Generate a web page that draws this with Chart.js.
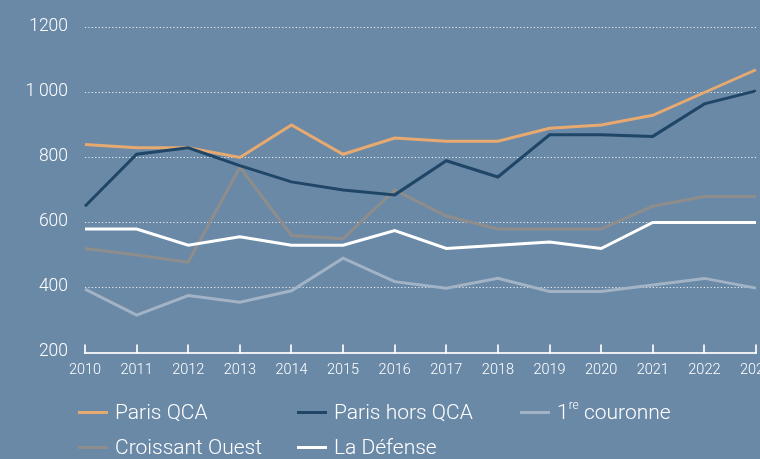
<!DOCTYPE html>
<html lang="fr">
<head>
<meta charset="utf-8">
<title>Loyers</title>
<script src="https://cdn.jsdelivr.net/npm/chart.js@4.4.1/dist/chart.umd.min.js"></script>
<style>
  html, body {
    margin: 0;
    padding: 0;
    width: 760px;
    height: 459px;
    overflow: hidden;
    background: #6a89a7;
    font-family: Roboto, "Liberation Sans", sans-serif;
  }
  #wrap {
    position: absolute;
    left: 0;
    top: 0;
    width: 786px;
    height: 385px;
  }
  #legend {
    position: absolute;
    left: 0;
    top: 0;
    width: 760px;
    height: 459px;
    pointer-events: none;
  }
  .item {
    position: absolute;
    display: flex;
    align-items: center;
    color: #fff;
    font-size: 21px;
    font-weight: 300;
    white-space: nowrap;
    height: 24px;
    margin-top: -12px;
  }
  .swatch {
    width: 30px;
    height: 3px;
    margin-right: 7px;
  }
  .item sup {
    font-size: 12px;
    position: relative;
    top: -2px;
  }
</style>
</head>
<body>
<div id="wrap"><canvas id="loyersChart" width="786" height="385"></canvas></div>
<div id="legend"></div>
<script>
  // Data
  const years = ['2010', '2011', '2012', '2013', '2014', '2015', '2016',
                 '2017', '2018', '2019', '2020', '2021', '2022', '2023'];
  const yTickLabels = ['200', '400', '600', '800', '1\u2009000', '1200'];

  const seriesNames = ['Paris QCA', 'Paris hors QCA', '1re couronne', 'Croissant Ouest', 'La Défense'];

  const parisQCA      = [840, 830, 830, 800, 900, 810, 860, 850, 850, 890, 900, 930, 1000, 1070];
  const parisHorsQCA  = [650, 810, 830, 775, 725, 700, 685, 790, 740, 870, 870, 865, 965, 1005];
  const premiereCour  = [395, 315, 375, 355, 390, 490, 418, 398, 428, 388, 388, 408, 428, 398];
  const croissantOuest = [520, 500, 478, 770, 560, 550, 700, 620, 580, 580, 580, 650, 680, 680];
  const laDefense     = [580, 580, 530, 556, 530, 530, 575, 520, 530, 540, 520, 600, 600, 600];

  const seriesColors = ['#e6a96f', '#1f4567', '#a2b3c5', '#8f8d8b', '#ffffff'];

  // Legend positions (column left, row centre)
  const legendSlots = [[78, 412], [297, 412], [520, 412], [78, 447], [297, 447]];

  const allSeries = [parisQCA, parisHorsQCA, premiereCour, croissantOuest, laDefense];
  const drawOrder = [3, 2, 5, 4, 1];

  const gridWhite = 'rgba(255,255,255,0.85)';

  // Small upward tick marks on the x axis
  const upTicks = {
    id: 'upTicks',
    afterDatasetsDraw(chart) {
      const xs = chart.scales.x;
      const ctx = chart.ctx;
      const bottom = chart.chartArea.bottom;
      ctx.save();
      ctx.strokeStyle = gridWhite;
      ctx.lineWidth = 2;
      for (let i = 0; i < years.length; i++) {
        const x = Math.round(xs.getPixelForTick(i));
        ctx.beginPath();
        ctx.moveTo(x, bottom + 1);
        ctx.lineTo(x, bottom - 8);
        ctx.stroke();
      }
      ctx.restore();
    }
  };

  const datasets = allSeries.map((values, i) => ({
    label: seriesNames[i],
    data: values,
    borderColor: seriesColors[i],
    backgroundColor: seriesColors[i],
    borderWidth: 3,
    pointRadius: 0,
    tension: 0,
    order: drawOrder[i]
  }));

  const chart = new Chart(document.getElementById('loyersChart'), {
    type: 'line',
    data: { labels: years, datasets: datasets },
    options: {
      responsive: false,
      devicePixelRatio: 1,
      animation: false,
      layout: { padding: { left: 0, right: 30, top: 23, bottom: 0 } },
      plugins: {
        legend: { display: false },
        tooltip: { enabled: false }
      },
      scales: {
        x: {
          type: 'category',
          grid: { display: false, drawTicks: false },
          border: { display: true, color: gridWhite, width: 2 },
          ticks: {
            color: '#ffffff',
            font: { family: 'Roboto', size: 14.5, weight: 300 },
            padding: 9,
            maxRotation: 0,
            autoSkip: false
          },
          afterFit(scale) { scale.height = 32.5; }
        },
        y: {
          min: 200,
          max: 1200,
          grid: {
            drawTicks: false,
            lineWidth: 1,
            color: (c) => (c.tick && c.tick.value === 200) ? 'rgba(0,0,0,0)' : gridWhite
          },
          border: { display: false, dash: [1.2, 2.2] },
          ticks: {
            stepSize: 200,
            color: '#ffffff',
            font: { family: 'Roboto', size: 17.5, weight: 300 },
            padding: 17,
            labelOffset: -1,
            callback: (value, index) => yTickLabels[index]
          },
          afterFit(scale) { scale.width = 85; }
        }
      }
    },
    plugins: [upTicks]
  });

  // HTML legend, so the superscript in "1re" can be kept
  const legendBox = document.getElementById('legend');
  chart.data.datasets.forEach((ds, i) => {
    const item = document.createElement('div');
    item.className = 'item';
    item.style.left = legendSlots[i][0] + 'px';
    item.style.top = legendSlots[i][1] + 'px';
    const name = ds.label.replace(/^1re/, '1<sup>re</sup>');
    item.innerHTML = `<span class="swatch" style="background:${ds.borderColor}"></span><span>${name}</span>`;
    legendBox.appendChild(item);
  });
</script>
</body>
</html>
